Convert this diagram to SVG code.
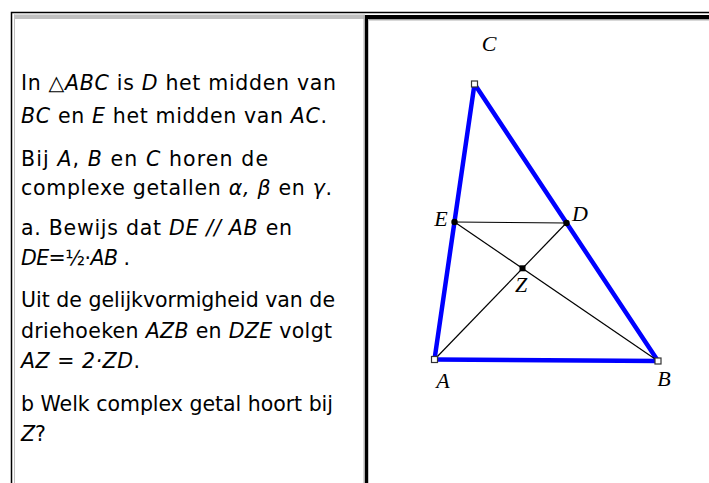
<svg xmlns="http://www.w3.org/2000/svg" width="709" height="483" viewBox="0 0 709 483">
<style>
.t{font-family:"DejaVu Sans","Liberation Sans",sans-serif;font-size:20.5px;fill:#000}
.i{font-style:italic}
.lbl{font-family:"Liberation Serif","Times New Roman",serif;font-style:italic;font-size:22px;fill:#000;text-anchor:middle}
.side{stroke:#0000ff;stroke-width:4.5;stroke-linecap:round;fill:none}
.seg{stroke:#000;stroke-width:1.2;fill:none}
.vtx{fill:#fff;stroke:#333;stroke-width:1.2}
</style>
<rect width="709" height="483" fill="#fff"/>
<g id="frame">
<path d="M11.5 483V12.5H709" fill="none" stroke="#000" stroke-width="1.5"/>
<rect x="14" y="14.5" width="351" height="4.5" fill="#c0c0c0"/>
<rect x="14" y="14.5" width="1" height="468.5" fill="#c0c0c0"/>
<rect x="365" y="15" width="344" height="4.5" fill="#000"/>
<rect x="368" y="19.5" width="341" height="1.2" fill="#c8c8c8"/>
<rect x="363.5" y="15" width="1.5" height="468" fill="#b0b0b0"/>
<rect x="365" y="15" width="3" height="468" fill="#000"/>
<rect x="368" y="19.5" width="1" height="463.5" fill="#c8c8c8"/>
</g>
<g id="text">
<text class="t" x="21" y="90" textLength="315" lengthAdjust="spacing">In △<tspan class="i">ABC</tspan> is <tspan class="i">D</tspan> het midden van</text>
<text class="t" x="21" y="123" textLength="306" lengthAdjust="spacing"><tspan class="i">BC</tspan> en <tspan class="i">E</tspan> het midden van <tspan class="i">AC</tspan>.</text>
<text class="t" x="21" y="166" textLength="247" lengthAdjust="spacing">Bij <tspan class="i">A</tspan>, <tspan class="i">B</tspan> en <tspan class="i">C</tspan> horen de</text>
<text class="t" x="21" y="195" textLength="311" lengthAdjust="spacing">complexe getallen <tspan class="i">α, β</tspan> en <tspan class="i">γ</tspan>.</text>
<text class="t" x="21" y="235" textLength="271" lengthAdjust="spacing">a. Bewijs dat <tspan class="i">DE // AB</tspan> en</text>
<text class="t" x="21" y="265" textLength="109" lengthAdjust="spacing"><tspan class="i">DE</tspan>=½·<tspan class="i">AB</tspan> .</text>
<text class="t" x="21" y="307" textLength="314" lengthAdjust="spacing">Uit de gelijkvormigheid van de</text>
<text class="t" x="21" y="338" textLength="311" lengthAdjust="spacing">driehoeken <tspan class="i">AZB</tspan> en <tspan class="i">DZE</tspan> volgt</text>
<text class="t" x="21" y="368" textLength="119" lengthAdjust="spacing"><tspan class="i">AZ = 2·ZD</tspan>.</text>
<text class="t" x="21" y="411" textLength="312" lengthAdjust="spacing">b Welk complex getal hoort bij</text>
<text class="t" x="21" y="441"><tspan class="i">Z</tspan>?</text>
</g>
<g id="connectors">
<path id="side-AB" class="side" d="M434.5 359.5L658 361"/>
<path id="side-BC" class="side" d="M658 361L474.5 84"/>
<path id="side-CA" class="side" d="M474.5 84L434.5 359.5"/>
<path id="seg-ED" class="seg" d="M454.5 222L566.3 223"/>
<path id="seg-EB" class="seg" d="M454.5 222L658 361"/>
<path id="seg-AD" class="seg" d="M434.5 359.5L566.3 223"/>
</g>
<g id="node-A"><rect class="vtx" x="431.5" y="356.5" width="6" height="6"/><text class="lbl" x="443" y="388">A</text></g>
<g id="node-B"><rect class="vtx" x="655" y="358" width="6" height="6"/><text class="lbl" x="664" y="386">B</text></g>
<g id="node-C"><rect class="vtx" x="471.5" y="81" width="6" height="6"/><text class="lbl" x="489" y="51">C</text></g>
<g id="node-D"><circle cx="566.5" cy="223" r="3.2" fill="#000"/><text class="lbl" x="580" y="221">D</text></g>
<g id="node-E"><circle cx="454.5" cy="222" r="3.2" fill="#000"/><text class="lbl" x="441" y="226">E</text></g>
<g id="node-Z"><rect x="519.5" y="265.3" width="6" height="6" fill="#000"/><text class="lbl" x="521" y="292">Z</text></g>
</svg>
